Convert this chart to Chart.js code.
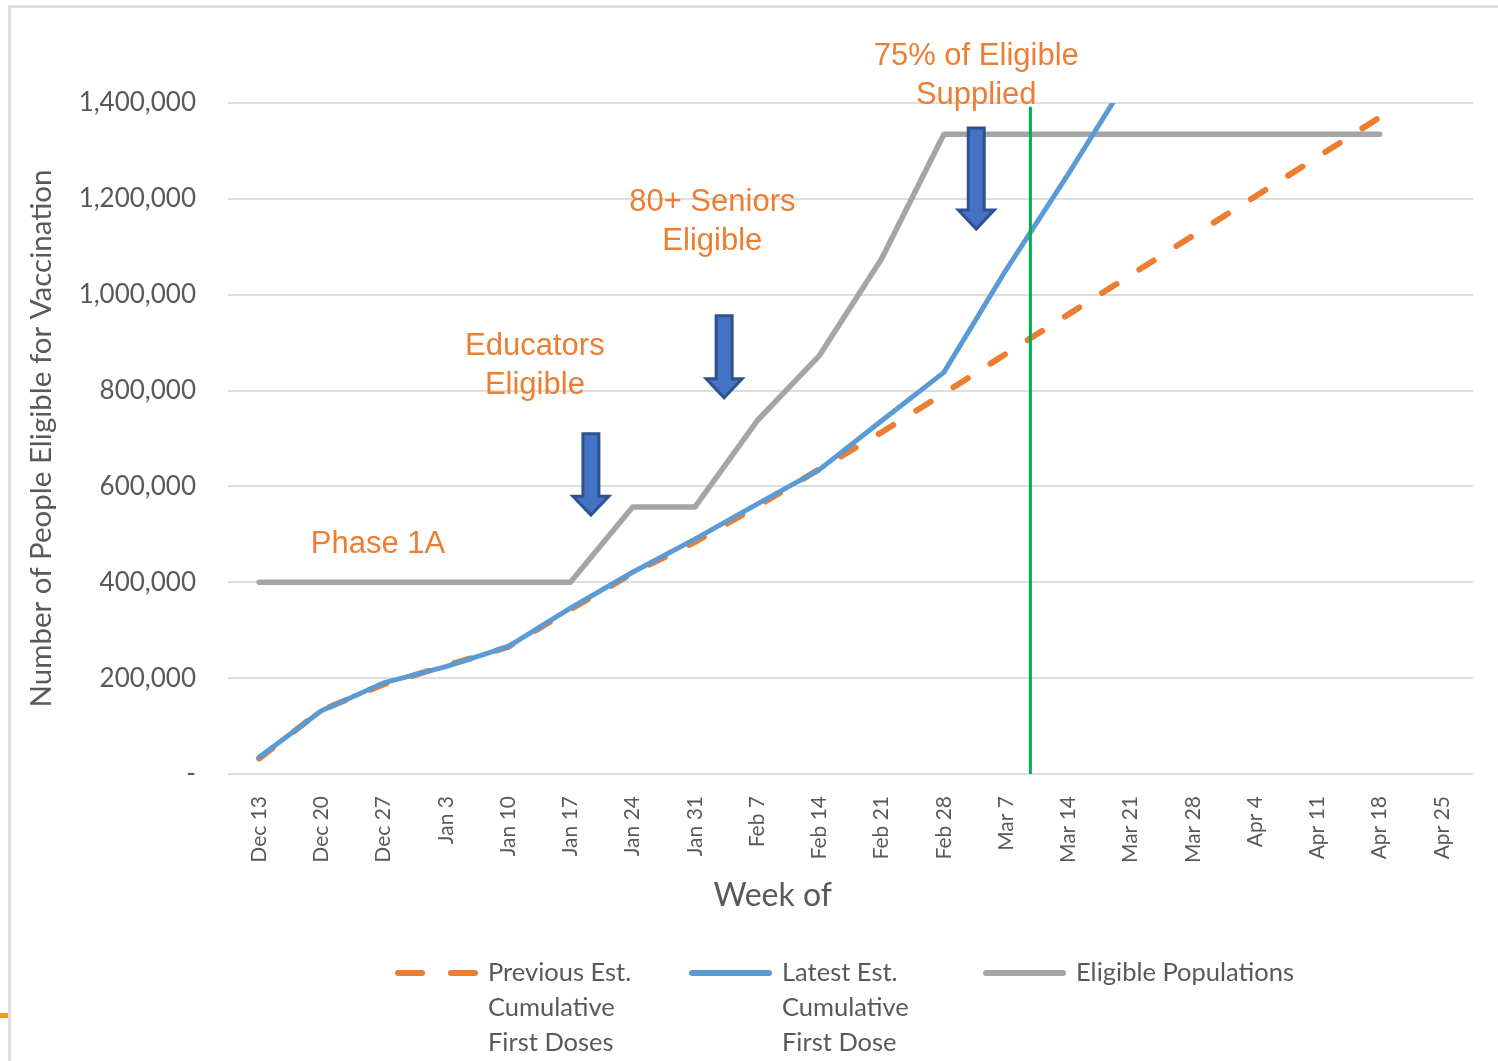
<!DOCTYPE html>
<html>
<head>
<meta charset="utf-8">
<title>Vaccination eligibility vs first doses</title>
<script src="https://cdn.jsdelivr.net/npm/chart.js@4.4.0/dist/chart.umd.min.js"></script>
<style>
  html, body { margin: 0; padding: 0; background: #fff; }
  #frame { position: absolute; left: 8px; top: 5px; width: 1600px; height: 1200px; border: 3px solid #dedede; }
  #tab { position: absolute; left: 0; top: 1013px; width: 8px; height: 5px; background: #ed9a2c; }
  #wrap { position: absolute; left: 0; top: 0; width: 1498px; height: 1061px; }
</style>
</head>
<body>
<div id="frame"></div>
<div id="tab"></div>
<div id="wrap"><canvas id="chart" width="1498" height="1061"></canvas></div>
<script>
// DATA

const weeks = ['Dec 13', 'Dec 20', 'Dec 27', 'Jan 3', 'Jan 10', 'Jan 17', 'Jan 24', 'Jan 31',
  'Feb 7', 'Feb 14', 'Feb 21', 'Feb 28', 'Mar 7', 'Mar 14', 'Mar 21', 'Mar 28',
  'Apr 4', 'Apr 11', 'Apr 18', 'Apr 25'];

const previousEst = [32000, 133000, 187000, 226000, 265000, 343000, 419000, 484000,
  558000, 636000, 713000, 794000, 877000, 959000, 1041000, 1123000,
  1205000, 1287000, 1370000, null];

const latestEst = [35000, 132000, 190000, 224000, 266000, 346000, 421000, 490000,
  563000, 635000, 737000, 838000, 1052000, 1252000, 1460000, null,
  null, null, null, null];

const eligiblePop = [400000, 400000, 400000, 400000, 400000, 400000, 557000, 557000,
  737000, 873000, 1075000, 1335000, 1335000, 1335000, 1335000, 1335000,
  1335000, 1335000, 1335000, null];

// week index (fractional) where the 75% supply mark falls, and how high the line goes
const goalWeek = 12.39;
const goalLineTop = 1392000;

const legendLabels = [
  ['Previous Est.', 'Cumulative', 'First Doses'],
  ['Latest Est.', 'Cumulative', 'First Dose'],
  ['Eligible Populations']
];

// callouts, placed in week / value units
const notes = [
  { lines: ['Phase 1A'], week: 1.91, value: 479000 },
  { lines: ['Educators', 'Eligible'], week: 4.43, value: 892000 },
  { lines: ['80+ Seniors', 'Eligible'], week: 7.28, value: 1192000 },
  { lines: ['75% of Eligible', 'Supplied'], week: 11.52, value: 1498000 }
];

const arrows = [
  { week: 5.33, from: 710000, to: 540000 },
  { week: 7.47, from: 956000, to: 785000 },
  { week: 11.52, from: 1348000, to: 1137000 }
];

// COLOURS

const ORANGE = '#ED7D31';
const BLUE = '#5B9BD5';
const GRAY = '#A5A5A5';
const GREEN = '#00B050';
const TEXT = '#595959';
const GRID = '#DEDEDE';

Chart.defaults.font.family = 'Lato';
Chart.defaults.color = TEXT;

// center the rotated week labels by padding the short ones with spaces
const measureCtx = document.createElement('canvas').getContext('2d');
measureCtx.font = '21px Lato';
const spaceW = measureCtx.measureText(' ').width;
const maxLabelW = Math.max(...weeks.map(w => measureCtx.measureText(w).width));
function centredLabel(label) {
  const n = Math.round((maxLabelW - measureCtx.measureText(label).width) / 2 / spaceW);
  return label + ' '.repeat(Math.max(n, 0));
}

// the axis title sits left of the plot centre in the original; shift it with trailing spaces
measureCtx.font = '32px Lato';
const xTitleShift = 78;
const xTitle = 'Week of' + ' '.repeat(Math.round(2 * xTitleShift / measureCtx.measureText(' ').width));

// CALLOUTS + ARROWS

function drawArrow(ctx, x, yTop, yTip) {
  const shaftHalf = 8, headHalf = 18, headH = 19;
  ctx.beginPath();
  ctx.moveTo(x - shaftHalf, yTop);
  ctx.lineTo(x + shaftHalf, yTop);
  ctx.lineTo(x + shaftHalf, yTip - headH);
  ctx.lineTo(x + headHalf, yTip - headH);
  ctx.lineTo(x, yTip);
  ctx.lineTo(x - headHalf, yTip - headH);
  ctx.lineTo(x - shaftHalf, yTip - headH);
  ctx.closePath();
  ctx.fillStyle = '#4472C4';
  ctx.fill();
  ctx.lineWidth = 3;
  ctx.lineJoin = 'miter';
  ctx.strokeStyle = '#2F528F';
  ctx.stroke();
}

const calloutPlugin = {
  id: 'callouts',
  afterDatasetsDraw(chart) {
    const { ctx } = chart;
    const xs = chart.scales.xLin, ys = chart.scales.y;
    ctx.save();
    arrows.forEach(a => {
      drawArrow(ctx, xs.getPixelForValue(a.week), ys.getPixelForValue(a.from), ys.getPixelForValue(a.to));
    });
    ctx.font = '31px "Liberation Sans", Arial, sans-serif';
    ctx.fillStyle = ORANGE;
    ctx.textAlign = 'center';
    ctx.textBaseline = 'middle';
    notes.forEach(n => {
      const x = xs.getPixelForValue(n.week);
      const y = ys.getPixelForValue(n.value);
      n.lines.forEach((line, i) => ctx.fillText(line, x, y + i * 39));
    });
    ctx.restore();
  }
};

// LEGEND (multi-line entries, Excel-style equal slots)

const legendLayout = { left: 395, slot: 294, top: 973, lineH: 35, marker: 83, textGap: 93 };

const legendPlugin = {
  id: 'multiLegend',
  afterDraw(chart) {
    const { ctx } = chart;
    ctx.save();
    legendLabels.forEach((lines, i) => {
      const ds = chart.data.datasets[i];
      const x = legendLayout.left + i * legendLayout.slot;
      const y = legendLayout.top;
      ctx.beginPath();
      ctx.setLineDash(ds.borderDash ? [24, 29] : []);
      ctx.lineCap = 'round';
      ctx.lineWidth = 6;
      ctx.strokeStyle = ds.borderColor;
      ctx.moveTo(x + 3, y);
      ctx.lineTo(x + legendLayout.marker - 3, y);
      ctx.stroke();
      ctx.setLineDash([]);
      ctx.font = '25.5px Lato';
      ctx.fillStyle = TEXT;
      ctx.textAlign = 'left';
      ctx.textBaseline = 'middle';
      lines.forEach((line, j) => ctx.fillText(line, x + legendLayout.textGap, y + j * legendLayout.lineH));
    });
    ctx.restore();
  }
};

// CHART

new Chart(document.getElementById('chart'), {
  type: 'line',
  data: {
    labels: weeks,
    datasets: [
      {
        label: legendLabels[0].join(' '),
        data: previousEst,
        borderColor: ORANGE,
        borderWidth: 6,
        borderDash: [17, 27],
        borderCapStyle: 'round',
        order: 2
      },
      {
        label: legendLabels[1].join(' '),
        data: latestEst,
        borderColor: BLUE,
        borderWidth: 5,
        order: 1
      },
      {
        label: legendLabels[2].join(' '),
        data: eligiblePop,
        borderColor: GRAY,
        borderWidth: 5.5,
        order: 3
      },
      {
        label: '75% of Eligible Supplied',
        data: [{ x: goalWeek, y: 0 }, { x: goalWeek, y: goalLineTop }],
        xAxisID: 'xLin',
        borderColor: GREEN,
        borderWidth: 3,
        borderCapStyle: 'butt',
        order: 0
      }
    ]
  },
  options: {
    responsive: false,
    animation: false,
    devicePixelRatio: 1,
    layout: { padding: { left: 12, right: 25, top: 103, bottom: 137 } },
    plugins: {
      legend: { display: false },
      tooltip: { enabled: false }
    },
    elements: {
      point: { radius: 0 },
      line: { tension: 0, fill: false, borderJoinStyle: 'round', borderCapStyle: 'round' }
    },
    datasets: { line: { clip: 0 } },
    scales: {
      x: {
        type: 'category',
        offset: true,
        grid: { display: false },
        border: { display: false },
        ticks: {
          autoSkip: false,
          minRotation: 90,
          maxRotation: 90,
          padding: 14,
          color: TEXT,
          font: { size: 21 },
          callback: function (value) { return centredLabel(this.getLabelForValue(value)); }
        },
        title: {
          display: true,
          text: xTitle,
          color: TEXT,
          font: { size: 32 },
          padding: { top: 0, bottom: 9 }
        },
        afterFit: s => { s.height = 150; }
      },
      xLin: { type: 'linear', display: false, min: -0.5, max: weeks.length - 0.5 },
      y: {
        min: 0,
        max: 1400000,
        grid: { color: GRID, lineWidth: 2, drawTicks: false },
        border: { display: false },
        ticks: {
          stepSize: 200000,
          padding: 32,
          color: TEXT,
          font: { size: 26 },
          callback: v => v === 0 ? '-' : v.toLocaleString('en-US')
        },
        title: {
          display: true,
          text: 'Number of People Eligible for Vaccination',
          color: TEXT,
          font: { size: 29.5 },
          padding: { top: 12, bottom: 0 }
        },
        afterFit: s => { s.width = 216; }
      }
    }
  },
  plugins: [calloutPlugin, legendPlugin]
});
</script>
</body>
</html>
